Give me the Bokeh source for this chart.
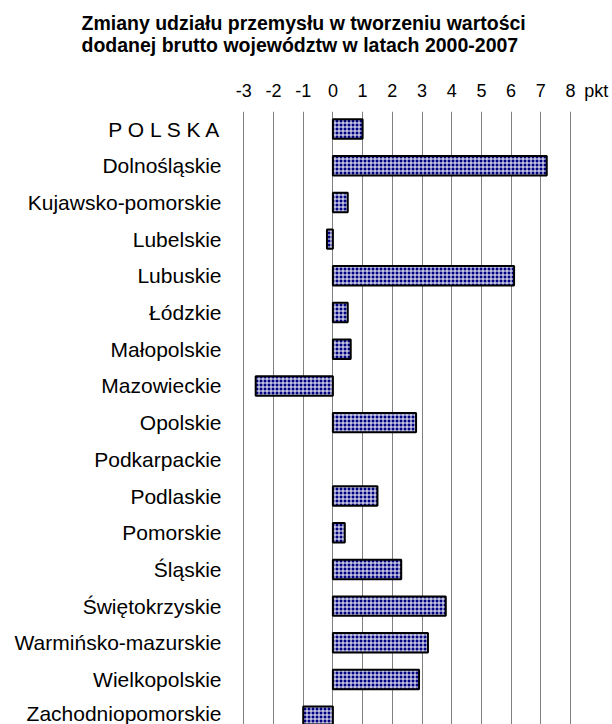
from bokeh.plotting import figure
from bokeh.models import FixedTicker, Range1d, Title, ColumnDataSource
from bokeh.embed import file_html
from bokeh.resources import INLINE

categories = ["P O L S K A", "Dolnośląskie", "Kujawsko-pomorskie", "Lubelskie", "Lubuskie",
              "Łódzkie", "Małopolskie", "Mazowieckie", "Opolskie", "Podkarpackie",
              "Podlaskie", "Pomorskie", "Śląskie", "Świętokrzyskie", "Warmińsko-mazurskie",
              "Wielkopolskie", "Zachodniopomorskie"]
changes = [1.0, 7.2, 0.5, -0.2, 6.1, 0.5, 0.6, -2.6, 2.8, 0.0, 1.5, 0.4, 2.3, 3.8, 3.2, 2.9, -1.0]
x_ticks = [-3, -2, -1, 0, 1, 2, 3, 4, 5, 6, 7, 8]
unit_label = "pkt"
unit_pos = 8.87
title_text = "Zmiany udziału przemysłu w tworzeniu wartości\ndodanej brutto województw w latach 2000-2007"

FONT = "Liberation Sans"

idx = list(range(len(categories)))
src = ColumnDataSource(dict(
    y=idx, right=changes, left=[0] * len(changes),
    a=[1.0 if v != 0 else 0.0 for v in changes],
))

p = figure(width=612, height=724, x_range=Range1d(-3.044, 9.414), y_range=Range1d(16.226, -0.477),
           x_axis_location="above", output_backend="svg", toolbar_location=None,
           min_border_left=242, min_border_right=0, min_border_top=111, min_border_bottom=0)
p.outline_line_color = None
p.background_fill_color = "white"

p.hbar(y="y", left="left", right="right", height=0.53, source=src,
       fill_color="#000080", fill_alpha="a", line_color="black", line_width=2, line_alpha="a",
       hatch_pattern="cross", hatch_color="white", hatch_scale=4, hatch_weight=1, hatch_alpha="a")

xa = p.xaxis[0]
xa.ticker = FixedTicker(ticks=x_ticks + [unit_pos])
overrides = {t: str(t) for t in x_ticks}
overrides[unit_pos] = unit_label
xa.major_label_overrides = overrides
xa.axis_line_color = None
xa.major_tick_line_color = None
xa.minor_tick_line_color = None
xa.major_tick_out = 0
xa.major_tick_in = 0
xa.major_label_text_font = FONT
xa.major_label_text_font_size = "18px"
xa.major_label_text_color = "black"
xa.major_label_standoff = 11

p.xgrid.ticker = FixedTicker(ticks=x_ticks)
p.xgrid.grid_line_color = "#808080"
p.xgrid.grid_line_width = 1
p.ygrid.grid_line_color = None

ya = p.yaxis[0]
ya.ticker = FixedTicker(ticks=idx)
ya.major_label_overrides = {i: c for i, c in zip(idx, categories)}
ya.axis_line_color = None
ya.major_tick_line_color = None
ya.minor_tick_line_color = None
ya.major_tick_out = 0
ya.major_tick_in = 0
ya.major_label_text_font = FONT
ya.major_label_text_font_size = "21px"
ya.major_label_text_color = "black"
ya.major_label_standoff = 21

# spacer between the axis labels and the title
p.add_layout(Title(text=" ", text_font_size="1px", standoff=17), "above")
p.add_layout(Title(text=title_text, align="left", offset=-161, text_font=FONT,
                   text_font_size="19.5px", text_font_style="bold", text_color="black",
                   standoff=4), "above")

open("out.html", "w").write(file_html(p, INLINE))
